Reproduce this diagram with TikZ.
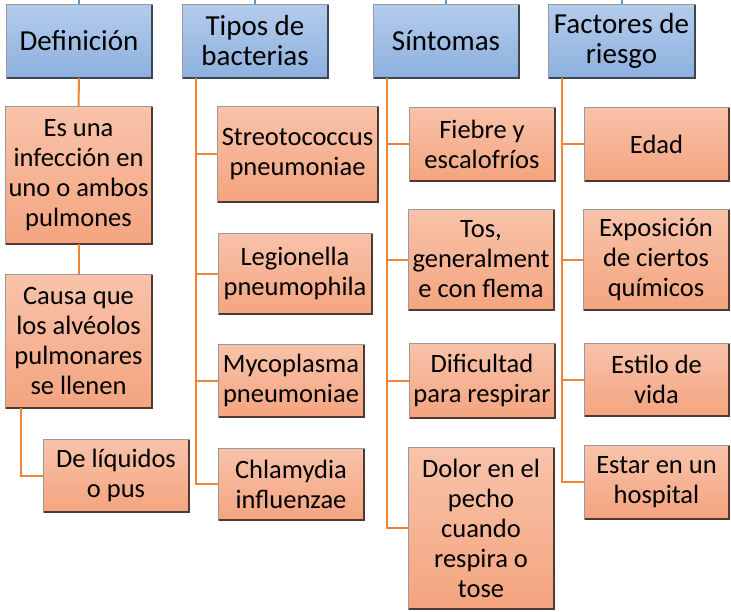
\documentclass[tikz,border=0pt]{standalone}
\usepackage{fontspec}
\setmainfont{Carlito}
\definecolor{hdtop}{HTML}{B4CCEC}
\definecolor{hdbot}{HTML}{8CB0DE}
\definecolor{ortop}{HTML}{F8C3AA}
\definecolor{orbot}{HTML}{F4A47F}
\definecolor{edgelight}{HTML}{9A9A9A}
\definecolor{edgedark}{HTML}{4E3A30}
\definecolor{hddark}{HTML}{3C4652}
\definecolor{conn}{HTML}{EF8434}
\definecolor{bluel}{HTML}{5B9BD5}
\tikzset{
  x=1pt,y=-1pt,
  box/.style={draw=edgelight, line width=0.8pt, inner sep=0pt, outer sep=0pt, align=center,
     font=\fontsize{26.5}{30}\selectfont},
  hdbox/.style={box, top color=hdtop, bottom color=hdbot, font=\fontsize{29}{30}\selectfont},
  orbox/.style={box, top color=ortop, bottom color=orbot},
  connline/.style={draw=conn, line width=2pt},
  blueline/.style={draw=bluel, line width=2pt},
  darkedge/.style={draw=edgedark, line width=1.6pt},
  hdedge/.style={draw=hddark, line width=1.6pt}
}
\newcommand{\dkedges}[2]{\draw[#2] ([xshift=1pt]#1.south west) -- (#1.south east) -- ([yshift=-1pt]#1.north east);}
\begin{document}
\begin{tikzpicture}
\useasboundingbox (0,0) rectangle (731,611);
% headers
\node[hdbox, minimum width=146, minimum height=74] (H1) at (79,41) {Definición};
\node[hdbox, minimum width=146, minimum height=74] (H2) at (255,41) {Tipos de\\bacterias};
\node[hdbox, minimum width=146, minimum height=74] (H3) at (446,41) {Síntomas};
\node[hdbox, minimum width=147, minimum height=74] (H4) at (621.5,41) {Factores de\\riesgo};
\foreach \n in {H1,H2,H3,H4}{
  \coordinate (top\n) at (\n.north |- 0,0);
  \draw[blueline] (top\n) -- (\n.north);
  \dkedges{\n}{hdedge}
}
% Definicion
\node[orbox, minimum width=147, minimum height=138] (D1) at (78.5,175) {Es una\\infección en\\uno o ambos\\pulmones};
\node[orbox, minimum width=147, minimum height=134] (D2) at (78.5,341) {Causa que\\los alvéolos\\pulmonares\\se llenen};
\node[orbox, minimum width=146, minimum height=73] (D3) at (116,475.5) {De líquidos\\o pus};
% Tipos
\node[orbox, minimum width=161, minimum height=96] (T1) at (297.5,154) {Streotococcus\\pneumoniae};
\node[orbox, minimum width=154, minimum height=81] (T2) at (295,273.5) {Legionella\\pneumophila};
\node[orbox, minimum width=146, minimum height=73] (T3) at (291,380.5) {Mycoplasma\\pneumoniae};
\node[orbox, minimum width=146, minimum height=72] (T4) at (291,484) {Chlamydia\\influenzae};
% Sintomas
\node[orbox, minimum width=146, minimum height=74] (S1) at (482,144) {Fiebre y\\escalofríos};
\node[orbox, minimum width=146, minimum height=101] (S2) at (481,259.5) {Tos,\\generalment\\e con flema};
\node[orbox, minimum width=146, minimum height=75] (S3) at (482,380.5) {Dificultad\\para respirar};
\node[orbox, minimum width=146, minimum height=162] (S4) at (481,528) {Dolor en el\\pecho\\cuando\\respira o\\tose};
% Factores
\node[orbox, minimum width=145, minimum height=74] (F1) at (656.5,144) {Edad};
\node[orbox, minimum width=146, minimum height=101] (F2) at (656,259.5) {Exposición\\de ciertos\\químicos};
\node[orbox, minimum width=145, minimum height=73] (F3) at (656.5,379.5) {Estilo de\\vida};
\node[orbox, minimum width=145, minimum height=74] (F4) at (656.5,482) {Estar en un\\hospital};
\foreach \n in {D1,D2,D3,T1,T2,T3,T4,S1,S2,S3,S4,F1,F2,F3,F4}{\dkedges{\n}{darkedge}}
% connectors
\draw[connline] (H1.south) -- (D1.north);
\draw[connline] (D1.south) -- (D2.north);
\draw[connline] ([xshift=16pt]D2.south west) |- (D3.west);
\foreach \c in {T1,T2,T3,T4}{\draw[connline] ([xshift=14pt]H2.south west) |- (\c.west);}
\foreach \c in {S1,S2,S3,S4}{\draw[connline] ([xshift=14pt]H3.south west) |- (\c.west);}
\foreach \c in {F1,F2,F3,F4}{\draw[connline] ([xshift=14pt]H4.south west) |- (\c.west);}
\end{tikzpicture}
\end{document}
